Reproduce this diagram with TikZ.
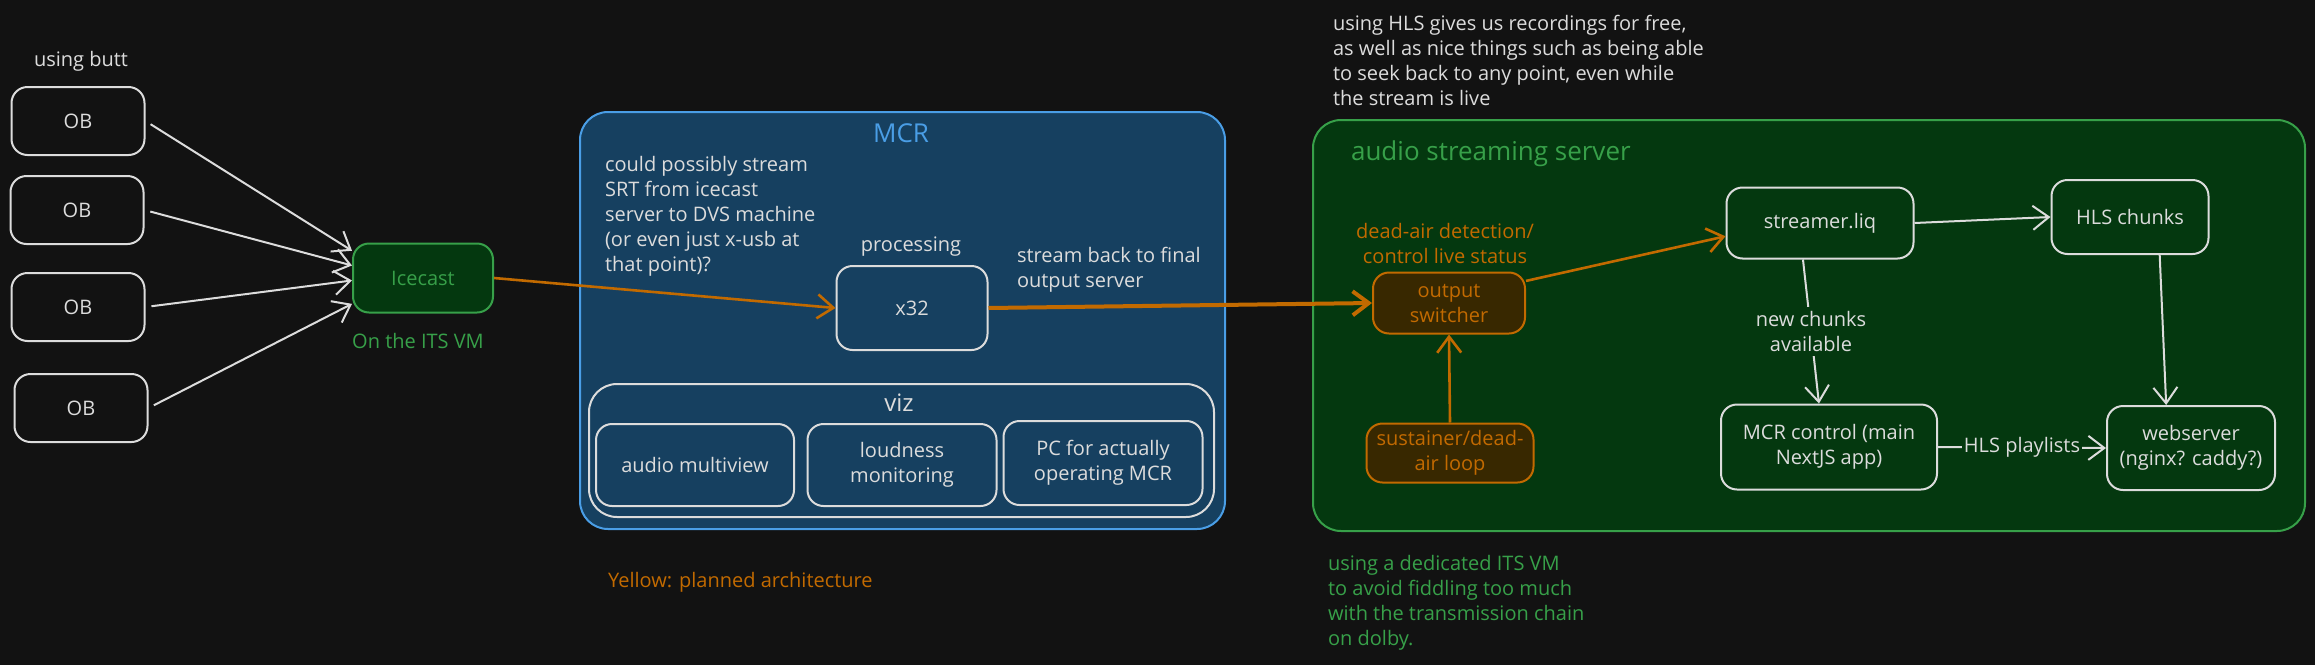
\documentclass[tikz,border=0pt]{standalone}
\usepackage{fontspec}
\setmainfont{Open Sans}
\usetikzlibrary{arrows.meta}
\definecolor{bg}{HTML}{121212}
\definecolor{ink}{HTML}{DCDCDC}
\definecolor{mcrblue}{HTML}{4A9EE6}
\definecolor{mcrfill}{HTML}{164060}
\definecolor{srvgreen}{HTML}{37A049}
\definecolor{srvfill}{HTML}{04380F}
\definecolor{planned}{HTML}{C26A00}
\definecolor{plannedfill}{HTML}{382800}
\begin{document}
\begin{tikzpicture}[x=0.5pt, y=-0.5pt, font=\fontsize{10}{12.5}\selectfont,
  >={Straight Barb[length=8pt,width=12pt]},
  box/.style={draw=ink, line width=1pt, rounded corners=8pt, text=ink, align=center, inner sep=0pt},
  group/.style={line width=1pt, rounded corners=14pt, inner sep=0pt},
  plan/.style={box, draw=planned, fill=plannedfill, text=planned},
  link/.style={->, draw=ink, line width=1pt},
  planlink/.style={->, draw=planned, line width=1.3pt}]
\fill[bg] (0,0) rectangle (2315,665);

\node[text=ink] (butt) at (81,61) {using butt};
\node[box, minimum width=66.5pt, minimum height=34pt] (ob1) at (78,121) {OB};
\node[box, minimum width=66.5pt, minimum height=34pt] (ob2) at (77,210) {OB};
\node[box, minimum width=66.5pt, minimum height=34pt] (ob3) at (78,307) {OB};
\node[box, minimum width=66.5pt, minimum height=34pt] (ob4) at (81,408) {OB};
\node[box, draw=srvgreen, fill=srvfill, text=srvgreen, minimum width=70pt, minimum height=34.5pt] (icecast) at (423,278) {Icecast};
\node[text=srvgreen] (itsvm) at (418,341) {On the ITS VM};

\node[group, draw=mcrblue, fill=mcrfill, minimum width=322.5pt, minimum height=208.5pt] (mcr) at (902.5,320.5) {};
\node[text=mcrblue, font=\fontsize{13}{15}\selectfont] (mcrtitle) at (901,133) {MCR};
\node[text=ink, anchor=west, align=left] (srt) at (598,216) {could possibly stream\\SRT from icecast\\server to DVS machine\\(or even just x-usb at\\that point)?};
\node[text=ink] (proc) at (911,247) {processing};
\node[box, minimum width=75.5pt, minimum height=42pt] (x32) at (912,308) {x32};
\node[text=ink, anchor=west, align=left] (back) at (1010,270) {stream back to final\\output server};
\node[group, draw=ink, minimum width=312.5pt, minimum height=66.5pt] (viz) at (901.5,450.5) {};
\node[text=ink, font=\fontsize{12}{14}\selectfont] (viztitle) at (899,403) {viz};
\node[box, minimum width=99pt, minimum height=41pt] (multiview) at (695,465) {audio multiview};
\node[box, minimum width=94.5pt, minimum height=41pt] (loudness) at (902,465) {loudness\\monitoring};
\node[box, minimum width=99.5pt, minimum height=42pt] (pc) at (1103,463) {PC for actually\\operating MCR};
\node[text=planned, anchor=west] (legend) at (601,582) {Yellow: planned architecture};

\node[text=ink, anchor=west, align=left] (hlsnote) at (1326,60) {using HLS gives us recordings for free,\\as well as nice things such as being able\\to seek back to any point, even while\\the stream is live};
\node[group, draw=srvgreen, fill=srvfill, minimum width=496pt, minimum height=205.5pt] (server) at (1809,325.5) {};
\node[text=srvgreen, anchor=west, font=\fontsize{13}{15}\selectfont] (servertitle) at (1344,154) {audio streaming server};
\node[text=planned, align=center] (deadair) at (1445,243) {dead-air detection/\\control live status};
\node[plan, minimum width=76pt, minimum height=30.5pt] (switcher) at (1449,303) {output\\switcher};
\node[plan, minimum width=83.5pt, minimum height=29.5pt] (sustainer) at (1450,453) {sustainer/dead-\\air loop};
\node[box, minimum width=93.5pt, minimum height=35.5pt] (streamer) at (1820,223) {streamer.liq};
\node[box, minimum width=78.5pt, minimum height=37pt] (chunks) at (2130,217) {HLS chunks};
\node[box, minimum width=108pt, minimum height=42.5pt] (mcrctl) at (1829,447) {MCR control (main\\NextJS app)};
\node[box, minimum width=84pt, minimum height=42pt] (webserver) at (2191,448) {webserver\\(nginx? caddy?)};
\node[text=srvgreen, anchor=west, align=left] (vmnote) at (1321,603) {using a dedicated ITS VM\\to avoid fiddling too much\\with the transmission chain\\on dolby.};

\draw[link, shorten <=3pt] (ob1.east) -- (icecast.159);
\draw[link, shorten <=3pt] (ob2.east) -- (icecast.170);
\draw[link, shorten <=3pt] (ob3.east) -- (icecast.182);
\draw[link, shorten <=3pt] (ob4.east) -- (icecast.200);
\draw[planlink] (icecast.east) -- (x32.west);
\draw[planlink, line width=2pt] (x32.east) -- (switcher.west);
\draw[planlink] (sustainer.north) -- (switcher.south);
\draw[planlink] (switcher.16) -- (streamer.188);
\draw[link] (streamer.east) -- (chunks.west);
\draw[link] (streamer.245) -- node[fill=srvfill, text=ink, align=center, inner sep=2pt] {new chunks\\available} (mcrctl.103);
\draw[link] (chunks.308) -- (webserver.120);
\draw[link] (mcrctl.east) -- node[fill=srvfill, text=ink, inner sep=1pt] {HLS playlists} (webserver.west);
\end{tikzpicture}
\end{document}
